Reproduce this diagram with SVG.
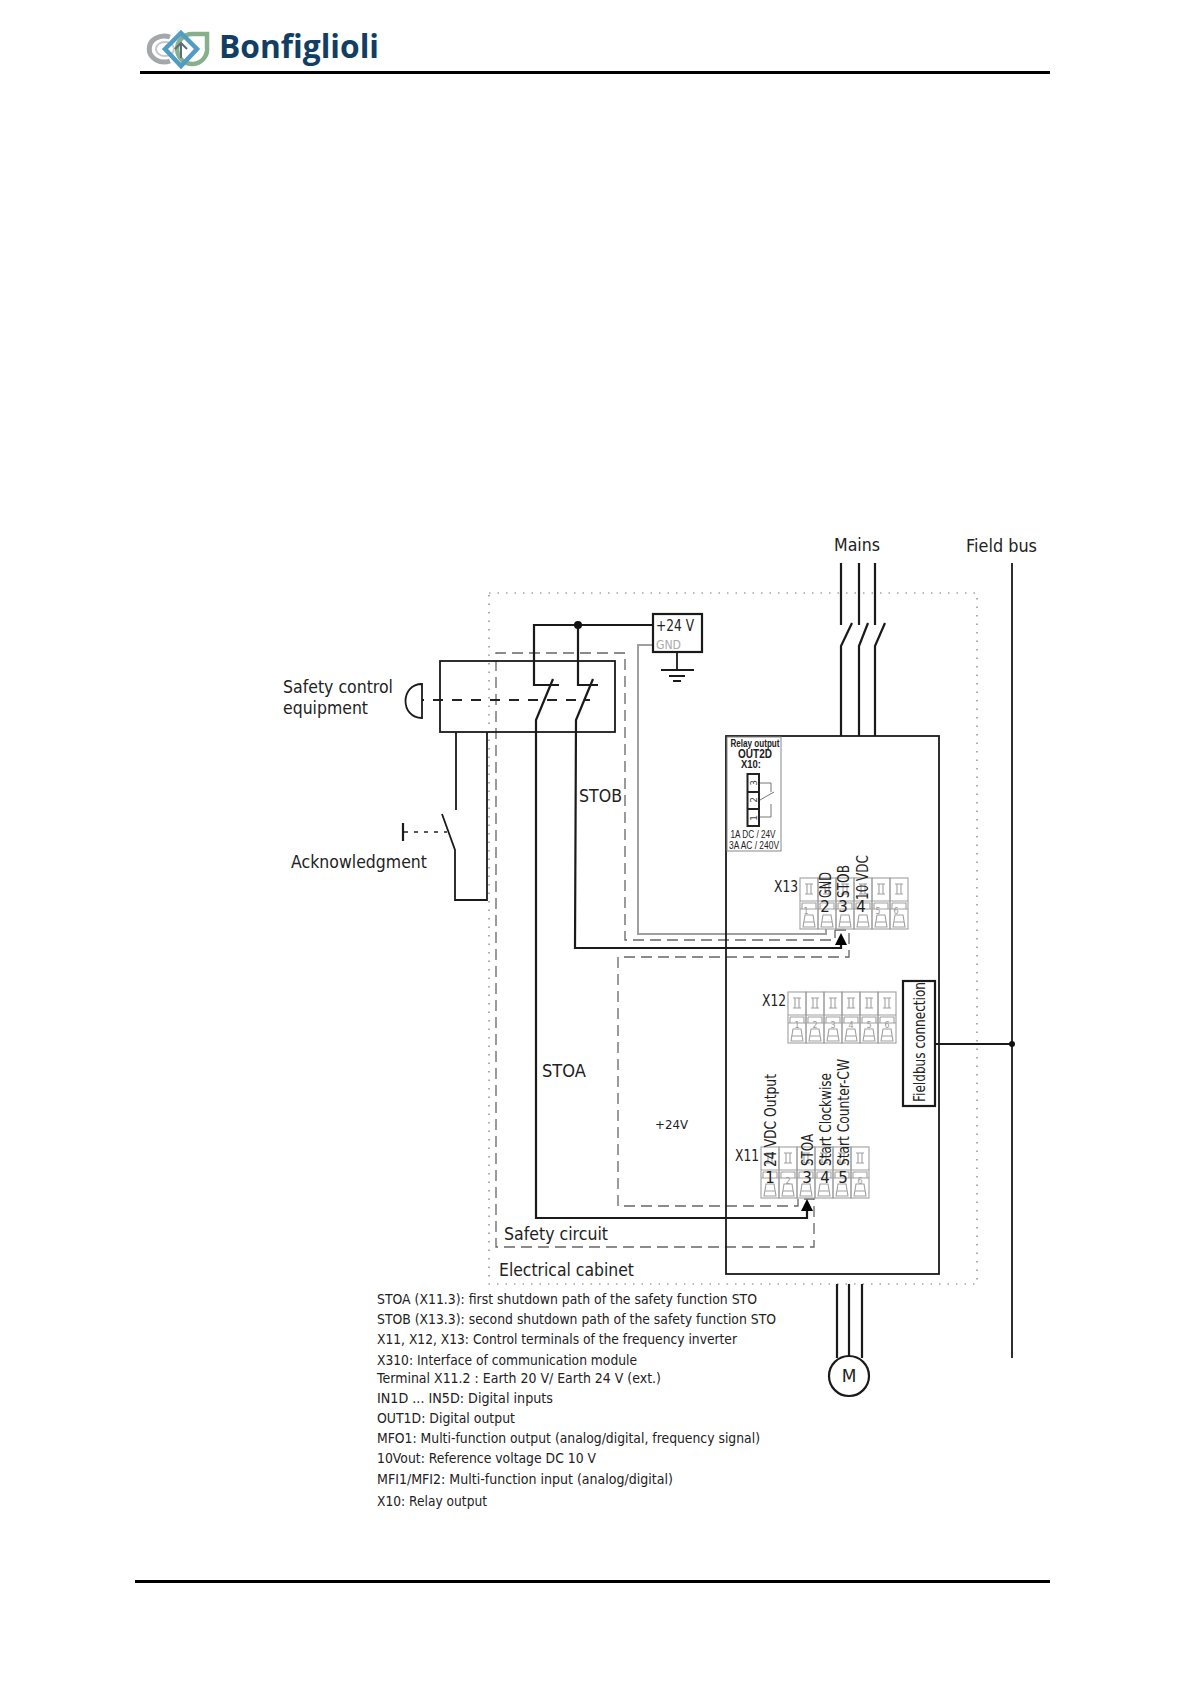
<svg xmlns="http://www.w3.org/2000/svg" xmlns:xlink="http://www.w3.org/1999/xlink" width="1190" height="1684" viewBox="0 0 1190 1684">
<style>
text{font-family:"DejaVu Sans","Liberation Sans",sans-serif;fill:#222}
.w{fill:none;stroke:#1a1a1a;stroke-width:2.2}
.t{fill:none;stroke:#1a1a1a;stroke-width:1.8}
.d{fill:none;stroke:#666;stroke-width:1.3;stroke-dasharray:11 6}
.o{fill:none;stroke:#777;stroke-width:1.2;stroke-dasharray:1.5 7}
.g{fill:none;stroke:#a0a0a0;stroke-width:2}
.c{fill:none;stroke:#a0a0a0;stroke-width:1.1}
.b{font-size:17px}
.n{font-size:15px}
.m{text-anchor:middle}
.r{font-family:"Liberation Sans",sans-serif;font-size:10px;text-anchor:middle}
.s{font-size:8px;fill:#999;text-anchor:middle}
.p{font-size:9px;fill:#444;text-anchor:middle}
</style>
<defs>
<g id="cell">
<rect class="c" x="0" y="0" width="18" height="51"/>
<path class="c" d="M0 23H18M0 31H18M2 25H16V31M2 25V31M3 49L5 37H13L15 49ZM4 44H14"/>
<path class="c" d="M5 6H13M5 16H13M7 6V16M11 6V16"/>
</g>
<marker id="ah" markerWidth="12" markerHeight="12" viewBox="0 0 12 12" refX="0" refY="6" orient="auto" markerUnits="userSpaceOnUse"><path d="M0 0L12 6L0 12Z" fill="#000"/></marker>
</defs>
<g id="header">
<path d="M170 37A15 13 0 1 0 170 61" fill="none" stroke="#a3a8ab" stroke-width="5"/>
<ellipse cx="165" cy="49" rx="9" ry="7" fill="none" stroke="#c5c8ca" stroke-width="2"/>
<path d="M205 34H207V47A15 15 0 1 1 192 34Z" fill="none" stroke="#86b08c" stroke-width="4.500"/>
<path d="M181 33L197 49L181 66L165 49Z" fill="none" stroke="#4f9cc4" stroke-width="4.500"/>
<path d="M181 43V58M175 49L181 43L187 49" fill="none" stroke="#5d6d78" stroke-width="2"/>
<text x="219" y="58" style="font-family:'Open Sans',sans-serif;font-weight:700;font-size:33px;fill:#123e63" textLength="160" lengthAdjust="spacingAndGlyphs">Bonfiglioli</text>
<rect x="140" y="71" width="910" height="3" fill="#000"/>
<rect x="135" y="1580" width="915" height="3" fill="#000"/>
</g>
<g id="cabinet">
<rect class="o" x="489" y="593" width="488" height="691"/>
<text class="b" x="499" y="1276" textLength="135" lengthAdjust="spacingAndGlyphs">Electrical cabinet</text>
</g>
<g id="safety-circuit">
<path class="d" d="M835 930H849V957H618V1206H798V1199H814V1247H496V653H625V940H835V930"/>
<text class="b" x="504" y="1240" textLength="104" lengthAdjust="spacingAndGlyphs">Safety circuit</text>
</g>
<g id="connectors">
<path class="w" d="M653 625H534V685H559M578 625V685H598"/>
<circle cx="578" cy="625" r="4" fill="#111"/>
<path class="w" d="M553 679L536 720V1218H807V1211" marker-end="url(#ah)"/>
<path class="w" d="M593 679L576 720L575 948H841V945" marker-end="url(#ah)"/>
<path class="g" d="M653 645H638V934H826V929"/>
<path class="t" d="M677 652V670M661 670H694M669 676H685M673 681H681"/>
<path class="t" d="M422 684V718C400 718 400 684 422 684Z"/>
<path fill="none" stroke="#222" stroke-width="1.8" stroke-dasharray="10 9" d="M433 700H590"/>
<path class="t" d="M422 700H424"/>
<path class="t" d="M456 732V810M487 732V900H455V850L442 814"/>
<path class="w" d="M403 823V841"/>
<path fill="none" stroke="#222" stroke-width="1.6" stroke-dasharray="4 6" d="M404 832H447"/>
<path class="w" d="M841 563V625M859 563V625M875 563V625M852 623L841 646V736M868 623L859 646V736M885 623L875 646V736"/>
<path class="t" d="M1012 563V1358M935 1044H1012"/>
<circle cx="1012" cy="1044" r="3" fill="#111"/>
<path class="w" d="M837 1284V1358M849 1284V1356M862 1284V1358"/>
</g>
<g id="safety-control"><rect class="t" x="440" y="661" width="175" height="71"/>
<text class="b" x="283" y="693" textLength="110" lengthAdjust="spacingAndGlyphs">Safety control</text>
<text class="b" x="283" y="714" textLength="85" lengthAdjust="spacingAndGlyphs">equipment</text></g>
<text id="ack" class="b" x="291" y="868" textLength="136" lengthAdjust="spacingAndGlyphs">Acknowledgment</text>
<g id="psu"><rect class="w" x="653" y="614" width="49" height="38" fill="#fff"/>
<text class="n" x="656" y="631" textLength="38" lengthAdjust="spacingAndGlyphs">+24 V</text>
<text x="656" y="649" style="font-size:11.500px;fill:#aaa" textLength="25" lengthAdjust="spacingAndGlyphs">GND</text></g>
<text id="stob" class="b" x="579" y="802" textLength="43" lengthAdjust="spacingAndGlyphs">STOB</text>
<text id="stoa" class="b" x="542" y="1077" textLength="44" lengthAdjust="spacingAndGlyphs">STOA</text>
<text id="v24" x="655" y="1129" style="font-size:13px" textLength="33" lengthAdjust="spacingAndGlyphs">+24V</text>
<text id="mains" class="b" x="834" y="551" textLength="46" lengthAdjust="spacingAndGlyphs">Mains</text>
<text id="fieldbus" class="b" x="966" y="552" textLength="71" lengthAdjust="spacingAndGlyphs">Field bus</text>
<g id="inverter"><rect class="t" x="726" y="736" width="213" height="538"/></g>
<g id="relay">
<rect x="727" y="737" width="54" height="114" fill="#fff" stroke="#888" stroke-width="1"/>
<text class="r" style="font-weight:700" x="755" y="747" textLength="49" lengthAdjust="spacingAndGlyphs">Relay output</text>
<text class="r" style="font-weight:700;font-size:12px" x="755" y="758" textLength="34" lengthAdjust="spacingAndGlyphs">OUT2D</text>
<text class="r" style="font-weight:700;font-size:11px" x="751" y="768" textLength="20" lengthAdjust="spacingAndGlyphs">X10:</text>
<rect x="747.500" y="774" width="11.500" height="52" fill="none" stroke="#222" stroke-width="2"/>
<path d="M747.500 792H759M747.500 809H759" stroke="#222" stroke-width="2"/>
<path d="M760 783H771V792M760 800L774 792M760 817H771V804" fill="none" stroke="#777" stroke-width="1"/>
<text class="p" transform="translate(757 783) rotate(-90)">3</text>
<text class="p" transform="translate(757 800) rotate(-90)">2</text>
<text class="p" transform="translate(757 818) rotate(-90)">1</text>
<text class="r" x="753" y="838" textLength="45" lengthAdjust="spacingAndGlyphs">1A DC / 24V</text>
<text class="r" x="754" y="849" textLength="50" lengthAdjust="spacingAndGlyphs">3A AC / 240V</text>
</g>
<g id="X13">
<use xlink:href="#cell" href="#cell" x="800" y="878"/><use xlink:href="#cell" href="#cell" x="818" y="878"/><use xlink:href="#cell" href="#cell" x="836" y="878"/><use xlink:href="#cell" href="#cell" x="854" y="878"/><use xlink:href="#cell" href="#cell" x="872" y="878"/><use xlink:href="#cell" href="#cell" x="890" y="878"/>
<text class="n" x="774" y="892" textLength="24" lengthAdjust="spacingAndGlyphs">X13</text>
<text class="s" x="806" y="914">1</text>
<text class="n m" x="825" y="912">2</text><text class="n m" x="843" y="912">3</text><text class="n m" x="861" y="912">4</text>
<text class="s" x="878" y="914">5</text><text class="s" x="896" y="914">6</text>
<text class="n" transform="translate(830.500 898) rotate(-90)" textLength="26" lengthAdjust="spacingAndGlyphs">GND</text>
<text class="n" transform="translate(848.500 898) rotate(-90)" textLength="33" lengthAdjust="spacingAndGlyphs">STOB</text>
<text class="n" transform="translate(867.500 900) rotate(-90)" textLength="45" lengthAdjust="spacingAndGlyphs">10 VDC</text>
</g>
<g id="X12">
<use xlink:href="#cell" href="#cell" x="788" y="992"/><use xlink:href="#cell" href="#cell" x="806" y="992"/><use xlink:href="#cell" href="#cell" x="824" y="992"/><use xlink:href="#cell" href="#cell" x="842" y="992"/><use xlink:href="#cell" href="#cell" x="860" y="992"/><use xlink:href="#cell" href="#cell" x="878" y="992"/>
<text class="n" x="762" y="1006" textLength="24" lengthAdjust="spacingAndGlyphs">X12</text>
<text class="s" x="797" y="1028">1</text><text class="s" x="815" y="1028">2</text><text class="s" x="833" y="1028">3</text><text class="s" x="851" y="1028">4</text><text class="s" x="869" y="1028">5</text><text class="s" x="887" y="1028">6</text>
</g>
<g id="X11">
<use xlink:href="#cell" href="#cell" x="761" y="1147"/><use xlink:href="#cell" href="#cell" x="779" y="1147"/><use xlink:href="#cell" href="#cell" x="797" y="1147"/><use xlink:href="#cell" href="#cell" x="815" y="1147"/><use xlink:href="#cell" href="#cell" x="833" y="1147"/><use xlink:href="#cell" href="#cell" x="851" y="1147"/>
<text class="n" x="735" y="1161" textLength="24" lengthAdjust="spacingAndGlyphs">X11</text>
<text class="n m" x="770" y="1183">1</text><text class="s" x="788" y="1184">2</text><text class="n m" x="807" y="1183">3</text><text class="n m" x="825" y="1183">4</text><text class="n m" x="843" y="1183">5</text><text class="s" x="860" y="1184">6</text>
<text class="n" transform="translate(775.500 1167) rotate(-90)" textLength="93" lengthAdjust="spacingAndGlyphs">24 VDC Output</text>
<text class="n" transform="translate(812.500 1166) rotate(-90)" textLength="32" lengthAdjust="spacingAndGlyphs">STOA</text>
<text class="n" transform="translate(830.500 1166) rotate(-90)" textLength="93" lengthAdjust="spacingAndGlyphs">Start Clockwise</text>
<text class="n" transform="translate(848.500 1166) rotate(-90)" textLength="107" lengthAdjust="spacingAndGlyphs">Start Counter-CW</text>
</g>
<g id="fieldbus-connection"><rect class="w" x="903" y="981" width="32" height="125" fill="#fff"/>
<text class="n" transform="translate(924.500 1102) rotate(-90)" textLength="120" lengthAdjust="spacingAndGlyphs">Fieldbus connection</text></g>
<g id="motor"><circle class="w" cx="849" cy="1376" r="20" fill="#fff"/><text x="849" y="1382" style="font-size:17px" text-anchor="middle">M</text></g>
<g id="legend" style="font-size:13.500px">
<text x="377" y="1304" textLength="380" lengthAdjust="spacingAndGlyphs">STOA (X11.3): first shutdown path of the safety function STO</text>
<text x="377" y="1324" textLength="399" lengthAdjust="spacingAndGlyphs">STOB (X13.3): second shutdown path of the safety function STO</text>
<text x="377" y="1344" textLength="360" lengthAdjust="spacingAndGlyphs">X11, X12, X13: Control terminals of the frequency inverter</text>
<text x="377" y="1365" textLength="260" lengthAdjust="spacingAndGlyphs">X310: Interface of communication module</text>
<text x="377" y="1383" textLength="284" lengthAdjust="spacingAndGlyphs">Terminal X11.2 : Earth 20 V/ Earth 24 V (ext.)</text>
<text x="377" y="1403" textLength="176" lengthAdjust="spacingAndGlyphs">IN1D ... IN5D: Digital inputs</text>
<text x="377" y="1423" textLength="138" lengthAdjust="spacingAndGlyphs">OUT1D: Digital output</text>
<text x="377" y="1443" textLength="383" lengthAdjust="spacingAndGlyphs">MFO1: Multi-function output (analog/digital, frequency signal)</text>
<text x="377" y="1463" textLength="219" lengthAdjust="spacingAndGlyphs">10Vout: Reference voltage DC 10 V</text>
<text x="377" y="1484" textLength="296" lengthAdjust="spacingAndGlyphs">MFI1/MFI2: Multi-function input (analog/digital)</text>
<text x="377" y="1506" textLength="110" lengthAdjust="spacingAndGlyphs">X10: Relay output</text>
</g>
</svg>
